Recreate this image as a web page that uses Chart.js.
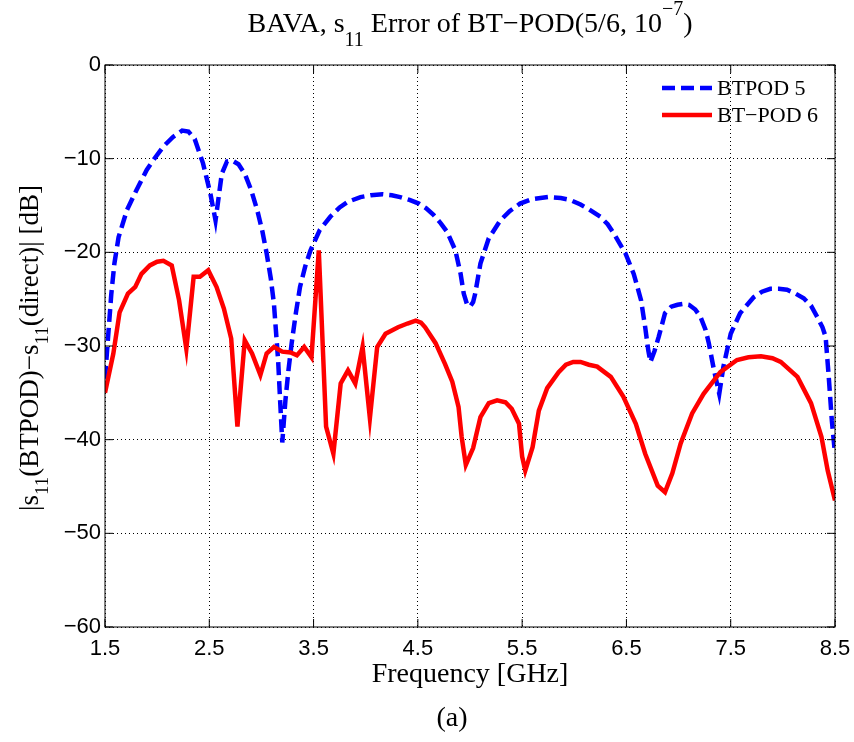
<!DOCTYPE html>
<html>
<head>
<meta charset="utf-8">
<script src="https://cdn.jsdelivr.net/npm/chart.js@4.4.0/dist/chart.umd.min.js"></script>
<style>
  html, body { margin: 0; padding: 0; background: #fff; }
  #wrap { width: 854px; height: 742px; position: relative; }
</style>
</head>
<body>
<div id="wrap"><canvas id="errChart"></canvas></div>
<script>
// tick values
const xTicks = [1.5, 2.5, 3.5, 4.5, 5.5, 6.5, 7.5, 8.5];
const yTicks = [0, -10, -20, -30, -40, -50, -60];

const seriesLabels = ["BTPOD 5", "BT\u2212POD 6"];

// BTPOD 5 (blue dashed)
const bt5Freq = [1.50, 1.53, 1.56, 1.59, 1.63, 1.71, 1.80, 1.90, 1.98, 2.06, 2.15, 2.24, 2.30, 2.36, 2.44, 2.51, 2.56, 2.62, 2.67, 2.72,
  2.78, 2.84, 2.90, 2.96, 3.01, 3.05, 3.09, 3.12, 3.16, 3.18, 3.20, 3.23, 3.26, 3.29, 3.33, 3.37, 3.42, 3.47, 3.56, 3.66,
  3.75, 3.83, 3.95, 4.05, 4.16, 4.25, 4.33, 4.42, 4.51, 4.58, 4.65, 4.72, 4.78, 4.86, 4.91, 4.94, 4.97, 5.00, 5.03, 5.05,
  5.10, 5.18, 5.29, 5.38, 5.48, 5.60, 5.75, 5.87, 5.96, 6.06, 6.14, 6.25, 6.32, 6.38, 6.49, 6.57, 6.64, 6.68, 6.71, 6.73,
  6.77, 6.81, 6.87, 6.93, 6.99, 7.05, 7.10, 7.16, 7.21, 7.26, 7.29, 7.34, 7.39, 7.43, 7.50, 7.59, 7.72, 7.80, 7.88, 7.96,
  8.04, 8.12, 8.20, 8.27, 8.33, 8.38, 8.41, 8.44, 8.47, 8.50];
const bt5Db = [-33.5, -29.0, -24.5, -21.2, -18.4, -15.5, -13.4, -11.2, -9.9, -8.7, -7.7, -7.0, -7.1, -7.9, -10.5, -13.7, -16.6, -11.6, -10.3, -10.2,
  -10.6, -11.6, -13.3, -15.5, -17.8, -20.1, -22.8, -25.5, -31.5, -36.0, -40.3, -35.8, -32.5, -29.7, -26.5, -23.7, -21.5, -19.8, -17.6, -16.2,
  -15.2, -14.6, -14.1, -13.9, -13.8, -13.9, -14.1, -14.4, -14.8, -15.3, -16.0, -16.9, -17.8, -19.8, -22.3, -24.4, -25.5, -25.8, -25.3, -24.4,
  -21.2, -18.5, -16.6, -15.6, -14.8, -14.3, -14.1, -14.2, -14.4, -14.9, -15.4, -16.2, -17.0, -18.0, -20.1, -22.3, -25.1, -28.0, -30.5, -31.7,
  -30.5, -29.0, -26.5, -25.8, -25.6, -25.5, -25.6, -26.1, -26.9, -28.3, -29.7, -32.6, -35.1, -32.2, -28.7, -26.5, -24.8, -24.2, -23.9, -23.9,
  -24.0, -24.4, -24.9, -25.7, -26.9, -28.0, -29.0, -33.3, -38.0, -41.5];

// BT-POD 6 (red solid)
const bt6Freq = [1.50, 1.58, 1.64, 1.72, 1.79, 1.85, 1.93, 2.00, 2.06, 2.14, 2.21, 2.28, 2.35, 2.41, 2.49, 2.57, 2.64, 2.71, 2.77, 2.84,
  2.91, 2.99, 3.05, 3.12, 3.20, 3.28, 3.34, 3.41, 3.48, 3.55, 3.62, 3.69, 3.76, 3.83, 3.90, 3.97, 4.04, 4.11, 4.19, 4.31,
  4.40, 4.48, 4.53, 4.57, 4.67, 4.76, 4.83, 4.89, 4.92, 4.96, 5.03, 5.10, 5.18, 5.26, 5.34, 5.40, 5.47, 5.50, 5.53, 5.60,
  5.66, 5.74, 5.85, 5.92, 5.99, 6.06, 6.14, 6.22, 6.35, 6.47, 6.59, 6.68, 6.80, 6.87, 6.94, 7.02, 7.13, 7.24, 7.40, 7.56,
  7.67, 7.79, 7.90, 7.98, 8.14, 8.27, 8.37, 8.43, 8.50];
const bt6Db = [-35.0, -30.8, -26.4, -24.4, -23.7, -22.3, -21.4, -21.0, -20.9, -21.4, -25.1, -30.3, -22.6, -22.6, -21.9, -23.7, -26.0, -29.2, -38.6, -29.4,
  -30.8, -33.1, -30.8, -30.1, -30.6, -30.7, -31.0, -30.1, -31.2, -19.8, -38.6, -41.5, -34.0, -32.6, -34.0, -30.1, -37.7, -30.1, -28.7, -28.0,
  -27.6, -27.3, -27.5, -28.0, -29.7, -31.9, -33.8, -36.5, -39.7, -42.7, -40.9, -37.6, -36.1, -35.8, -36.0, -36.7, -38.3, -41.8, -43.3, -40.8,
  -36.9, -34.5, -32.8, -32.0, -31.7, -31.7, -32.0, -32.2, -33.3, -35.4, -38.3, -41.5, -44.9, -45.6, -43.6, -40.4, -37.2, -35.1, -32.8, -31.5,
  -31.2, -31.1, -31.3, -31.7, -33.3, -36.1, -39.7, -43.3, -46.5];

const serif = '"Liberation Serif", "Times New Roman", serif';
const sans = '"Liberation Sans", Arial, sans-serif';

function toPoints(xs, ys) {
  return xs.map((x, i) => ({ x: x, y: ys[i] }));
}

// text with sub/superscripts: parts = [[text, shift], ...] shift 0 / 1 sup / -1 sub
function drawRich(ctx, parts, cx, cy, size, subDy, supDy) {
  const small = Math.round(size * 0.72);
  let total = 0;
  parts.forEach(p => {
    ctx.font = (p[1] ? small : size) + "px " + serif;
    total += ctx.measureText(p[0]).width;
  });
  let x = cx - total / 2;
  ctx.textAlign = "left";
  ctx.textBaseline = "alphabetic";
  parts.forEach(p => {
    ctx.font = (p[1] ? small : size) + "px " + serif;
    let dy = 0;
    if (p[1] === 1) dy = -supDy;
    if (p[1] === -1) dy = subDy;
    ctx.fillText(p[0], x, cy + dy);
    x += ctx.measureText(p[0]).width;
  });
}

const decorations = {
  id: "decorations",
  afterDraw(chart) {
    const ctx = chart.ctx;
    const a = chart.chartArea;
    const xs = chart.scales.x, ys = chart.scales.y;
    ctx.save();
    ctx.fillStyle = "#000";
    ctx.strokeStyle = "#000";

    // frame
    ctx.lineWidth = 1;
    ctx.setLineDash([]);
    ctx.strokeRect(a.left, a.top, a.right - a.left, a.bottom - a.top);

    // inward tick marks
    const tl = 8;
    ctx.beginPath();
    xTicks.forEach(v => {
      const px = xs.getPixelForValue(v);
      ctx.moveTo(px, a.bottom); ctx.lineTo(px, a.bottom - tl);
      ctx.moveTo(px, a.top); ctx.lineTo(px, a.top + tl);
    });
    yTicks.forEach(v => {
      const py = ys.getPixelForValue(v);
      ctx.moveTo(a.left, py); ctx.lineTo(a.left + tl, py);
      ctx.moveTo(a.right, py); ctx.lineTo(a.right - tl, py);
    });
    ctx.stroke();

    // title
    const midX = (a.left + a.right) / 2;
    drawRich(ctx, [["BAVA, s", 0], ["11", -1], [" Error of BT\u2212POD(5/6, 10", 0], ["\u22127", 1], [")", 0]], midX, 32, 28, 14, 17);

    // y axis title
    ctx.save();
    ctx.translate(38, (a.top + a.bottom) / 2 + 2);
    ctx.rotate(-Math.PI / 2);
    drawRich(ctx, [["|s", 0], ["11", -1], ["(BTPOD)\u2212s", 0], ["11", -1], ["(direct)| [dB]", 0]], 0, 0, 27, 10, 15);
    ctx.restore();

    // x axis title and caption
    ctx.font = "28px " + serif;
    ctx.textAlign = "center";
    ctx.textBaseline = "alphabetic";
    ctx.fillText("Frequency [GHz]", midX, 682);
    ctx.fillText("(a)", 452, 726);

    // legend
    const ds = chart.data.datasets;
    const lx0 = 662, lx1 = 712;
    const rows = [88, 115];
    ds.forEach((d, i) => {
      ctx.strokeStyle = d.borderColor;
      ctx.lineWidth = d.borderWidth;
      ctx.setLineDash(d.borderDash || []);
      ctx.beginPath();
      ctx.moveTo(lx0, rows[i]);
      ctx.lineTo(lx1, rows[i]);
      ctx.stroke();
      ctx.setLineDash([]);
      ctx.font = "22px " + serif;
      ctx.textAlign = "left";
      ctx.textBaseline = "middle";
      ctx.fillStyle = "#000";
      ctx.fillText(d.label, 717, rows[i] + 1);
    });
    ctx.restore();
  }
};

new Chart(document.getElementById("errChart"), {
  type: "line",
  data: {
    datasets: [
      {
        label: seriesLabels[0],
        data: toPoints(bt5Freq, bt5Db),
        borderColor: "#0000ff",
        borderWidth: 4.5,
        borderDash: [13, 6],
        borderCapStyle: "butt",
        pointRadius: 0,
        tension: 0,
        fill: false,
        order: 1
      },
      {
        label: seriesLabels[1],
        data: toPoints(bt6Freq, bt6Db),
        borderColor: "#ff0000",
        borderWidth: 4.5,
        pointRadius: 0,
        tension: 0,
        fill: false,
        order: 0
      }
    ]
  },
  options: {
    responsive: true,
    maintainAspectRatio: false,
    animation: false,
    layout: { padding: { left: 0, right: 19, top: 65, bottom: 0 } },
    plugins: {
      legend: { display: false },
      title: { display: false },
      tooltip: { enabled: false }
    },
    scales: {
      x: {
        type: "linear",
        min: 1.5,
        max: 8.5,
        afterBuildTicks: scale => { scale.ticks = xTicks.map(v => ({ value: v })); },
        afterFit: scale => {
          scale.height = 115;
          // keep the plot edge fixed, the last label may overhang
          scale.paddingLeft = 0;
          scale.paddingRight = 0;
        },
        ticks: {
          color: "#000",
          font: { family: sans, size: 22 },
          padding: 9,
          maxRotation: 0,
          callback: v => v.toFixed(1)
        },
        grid: { color: "#000", lineWidth: 1, drawTicks: false },
        border: { display: false, dash: [1, 3] }
      },
      y: {
        type: "linear",
        min: -60,
        max: 0,
        afterBuildTicks: scale => { scale.ticks = yTicks.map(v => ({ value: v })); },
        afterFit: scale => { scale.width = 105; },
        ticks: {
          color: "#000",
          font: { family: sans, size: 22 },
          padding: 4,
          callback: v => (v < 0 ? "\u2212" + Math.abs(v) : String(v))
        },
        grid: { color: "#000", lineWidth: 1, drawTicks: false },
        border: { display: false, dash: [1, 3] }
      }
    }
  },
  plugins: [decorations]
});
</script>
</body>
</html>
